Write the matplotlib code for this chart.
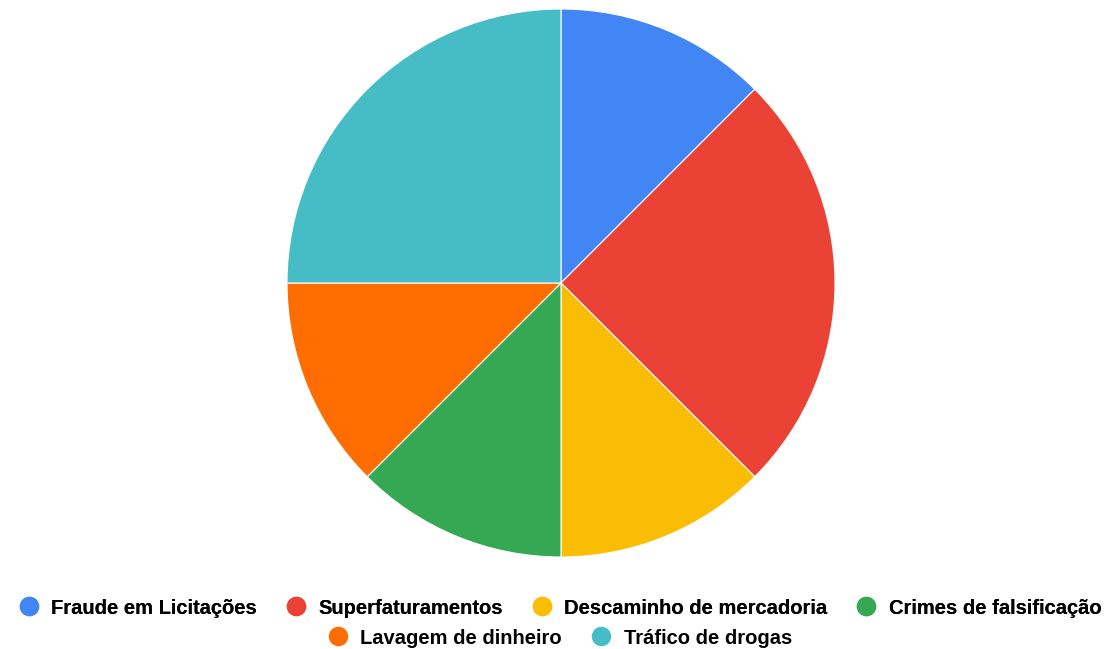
import matplotlib.pyplot as plt
from matplotlib.lines import Line2D

categorias = ['Fraude em Licitações', 'Superfaturamentos', 'Descaminho de mercadoria',
              'Crimes de falsificação', 'Lavagem de dinheiro', 'Tráfico de drogas']
valores = [1, 2, 1, 1, 1, 2]
cores = ['#4285F4', '#EA4335', '#FBBC04', '#34A853', '#FF6D01', '#46BDC6']

plt.rcParams['font.family'] = ['Liberation Sans', 'DejaVu Sans']

W, H = 1120, 649
fig = plt.figure(figsize=(W / 100, H / 100), dpi=100)

# pie area: centre (561, 283) px, radius 274 px
cx, cy, r = 561, 283, 274
ax = fig.add_axes([(cx - r) / W, (H - cy - r) / H, 2 * r / W, 2 * r / H])
ax.pie(valores, colors=cores, startangle=90, counterclock=False,
       wedgeprops={'linewidth': 0.8, 'edgecolor': 'white'})
ax.set_xlim(-1, 1)
ax.set_ylim(-1, 1)
ax.set_aspect('auto')
ax.axis('off')

def marcador(c):
    return Line2D([], [], marker='o', linestyle='none', markersize=13,
                  markerfacecolor=c, markeredgecolor=c)

fonte = {'weight': 'bold', 'size': 14.5}
estilo = dict(loc='center', frameon=False, prop=fonte, handletextpad=0.6,
              columnspacing=1.45, handlelength=1.0, borderaxespad=0, borderpad=0)
leg1 = fig.legend([marcador(c) for c in cores[:4]], categorias[:4], ncol=4,
                  bbox_to_anchor=(0.5, 1 - 608 / H), **estilo)
fig.add_artist(leg1)
fig.legend([marcador(c) for c in cores[4:]], categorias[4:], ncol=2,
           bbox_to_anchor=(0.5, 1 - 638 / H), **estilo)

fig.savefig('out.png', dpi=100)
